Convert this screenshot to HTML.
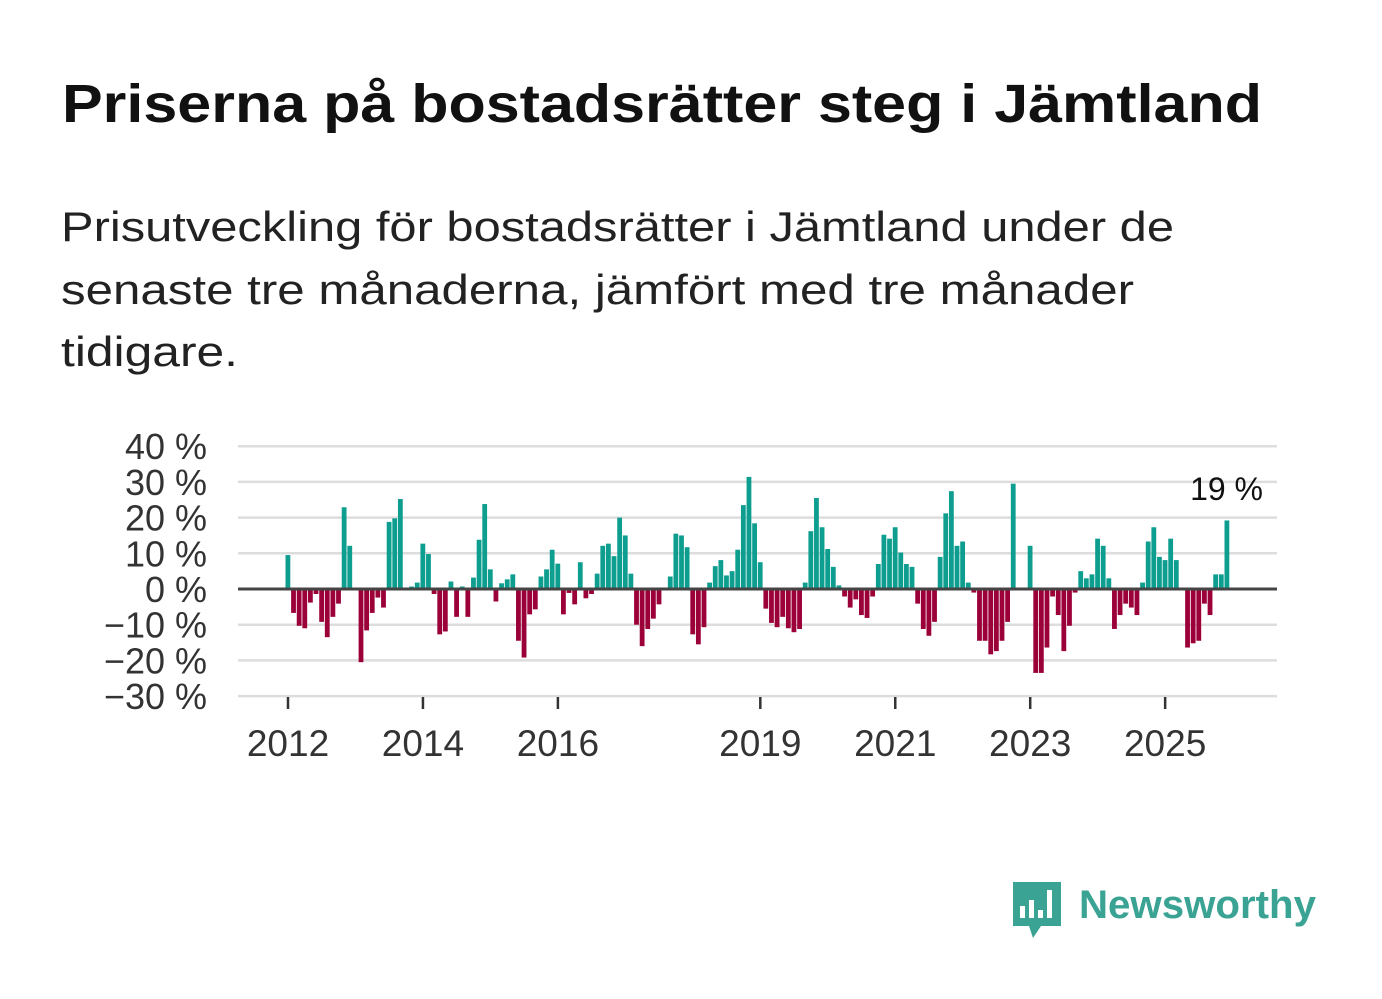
<!DOCTYPE html>
<html><head><meta charset="utf-8"><style>
body{margin:0;background:#fff}
svg{display:block;font-family:"Liberation Sans",sans-serif}
</style></head><body>
<svg id="chart" width="1382" height="999" viewBox="0 0 1382 999">
<rect width="1382" height="999" fill="#fff"/>
<text x="62" y="122" font-size="54" font-weight="bold" fill="#111" textLength="1200" lengthAdjust="spacingAndGlyphs">Priserna på bostadsrätter steg i Jämtland</text>
<g font-size="42" fill="#222">
<text x="61" y="241" textLength="1113" lengthAdjust="spacingAndGlyphs">Prisutveckling för bostadsrätter i Jämtland under de</text>
<text x="61" y="304" textLength="1073" lengthAdjust="spacingAndGlyphs">senaste tre månaderna, jämfört med tre månader</text>
<text x="61" y="366" textLength="177" lengthAdjust="spacingAndGlyphs">tidigare.</text>
</g>
<g id="grid"></g><g id="bars"></g><g id="axes"></g>
<text x="1263" y="500" font-size="32" fill="#111" text-anchor="end">19 %</text>
<g>
<path d="M1013 882 h48 v44 h-20 l-8 12 l-4 -12 h-16 z" fill="#3aa394"/>
<rect x="1020" y="906" width="5" height="12" fill="#fff"/>
<rect x="1029" y="900" width="5" height="18" fill="#fff"/>
<rect x="1038" y="910" width="5" height="8" fill="#fff"/>
<rect x="1047" y="890" width="5" height="28" fill="#fff"/>
<text x="1079" y="918" font-size="40" font-weight="bold" fill="#3aa394" textLength="237" lengthAdjust="spacingAndGlyphs">Newsworthy</text>
</g>
</svg>
<script>
const values=[9.5,-6.7,-10.3,-11,-3.8,-1.4,-9.2,-13.5,-7.8,-4.1,22.9,12.1,0,-20.5,-11.6,-6.7,-2.4,-5.2,18.8,19.8,25.2,0,0.7,1.8,12.7,9.8,-1.4,-12.7,-11.9,2.1,-7.8,0.7,-7.8,3.2,13.8,23.8,5.5,-3.5,1.6,2.7,4.1,-14.5,-19.2,
-7.1,-5.7,3.5,5.5,11,7.1,-7.1,-1.1,-4.3,7.5,-2.6,-1.4,4.3,12.1,12.7,9.2,20,15,4.3,-10,-16,-11.2,-8.3,-4.3,0,3.5,15.5,15,11.7,-12.7,-15.5,-10.7,1.8,6.4,8.1,3.8,5,11,23.5,31.4,18.4,7.5,-5.5,-9.5,-10.7,
-7.8,-11,-12.1,-11.2,1.8,16.2,25.5,17.3,11.2,6.2,1,-2.1,-5.2,-2.9,-7.3,-8.1,-2.1,7,15.2,14.1,17.3,10.2,7,6.2,-4.1,-11.2,-13.1,-9.2,9,21.2,27.4,12.1,13.3,1.8,-1,-14.5,-14.5,-18.3,-17.4,-14.5,-9.2,29.5,0,0,
12.1,-23.5,-23.5,-16.4,-2.1,-7.3,-17.4,-10.3,-1,5,3,4.1,14.1,12.1,3,-11.2,-7.3,-4.1,-5.2,-7.3,1.8,13.3,17.3,9,8.1,14.1,8.1,0,-16.4,-15.2,-14.5,-4.1,-7.3,4.1,4.1,19.2];
const yTicks=[40,30,20,10,0,-10,-20,-30];
const yTickLabels=["40 %","30 %","20 %","10 %","0 %","−10 %","−20 %","−30 %"];
const xTickYears=[2012,2014,2016,2019,2021,2023,2025];
const startYear=2012;
const NS="http://www.w3.org/2000/svg";
const x0=288,x1=1227,n=values.length,step=(x1-x0)/(n-1);
const xPos=i=>x0+i*step;
const yPos=v=>589-v*3.57;
function mk(t,a,p){const e=document.createElementNS(NS,t);for(const k in a)e.setAttribute(k,a[k]);p.appendChild(e);return e;}
const grid=document.getElementById('grid'),bars=document.getElementById('bars'),axes=document.getElementById('axes');
yTicks.forEach((v,i)=>{
 if(v!==0){const l=mk('line',{x1:238,x2:1277,y1:yPos(v),y2:yPos(v),stroke:'#ddd','stroke-width':2.5},grid);
 
 }
 const t=mk('text',{x:207,y:yPos(v)+13,'font-size':36,fill:'#333','text-anchor':'end'},axes);
 t.textContent=yTickLabels[i];
 
 
});
values.forEach((v,i)=>{
 const r=mk('rect',{x:xPos(i)-2.5,width:4.8,y:Math.min(yPos(v),yPos(0)),height:Math.abs(yPos(v)-yPos(0)),fill:v>=0?'#0e9e8f':'#9b0038'},bars);
 
 
});
const z=mk('line',{x1:238,x2:1277,y1:yPos(0),y2:yPos(0),stroke:'#444','stroke-width':3},axes);


xTickYears.forEach(yr=>{
 const xx=xPos((yr-startYear)*12);
 const tk=mk('line',{x1:xx,x2:xx,y1:697,y2:709,stroke:'#333','stroke-width':2.5},axes);
 
 
 const t=mk('text',{x:xx,y:756,'font-size':37,fill:'#333','text-anchor':'middle'},axes);
 t.textContent=yr;
 
 
});
</script>
</body></html>
